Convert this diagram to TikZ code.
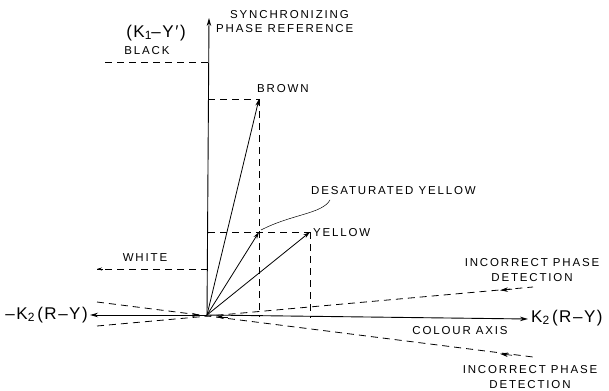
\documentclass[tikz,border=0pt]{standalone}
\usepackage{fontspec}
\setmainfont{Liberation Sans}
\newfontfamily\lblfont[LetterSpace=16]{Liberation Sans}
\newfontfamily\bigfont[LetterSpace=9]{Liberation Sans}
\usetikzlibrary{arrows.meta}
\newcommand{\mysub}[1]{\raisebox{-0.25ex}{\fontsize{12}{12}\selectfont #1}}
\begin{document}
\begin{tikzpicture}[x=1pt,y=-1pt,
  axis/.style={line width=0.9pt},
  vec/.style={line width=0.8pt,-{Stealth[length=7pt,width=4pt]}},
  dsh/.style={line width=0.8pt,dash pattern=on 7pt off 5pt},
  lbl/.style={font=\lblfont\fontsize{11.5}{12}\selectfont,inner sep=0pt},
  big/.style={font=\bigfont\fontsize{17}{18}\selectfont,inner sep=0pt}]
\useasboundingbox (0,0) rectangle (609,390);
% points
\coordinate (O) at (207,315);
\coordinate (Top) at (209,18);
\coordinate (R) at (528,319);
\coordinate (L) at (90,315);
\coordinate (B) at (259,99);
\coordinate (Y) at (310,232);
\coordinate (D) at (259,232);
\coordinate (Bv) at (259,317);
\coordinate (Yv) at (310,318);
\coordinate (Bh) at (208,99);
\coordinate (Yh) at (208,232);
\coordinate (K0) at (105,62);
\coordinate (K1) at (208,62);
\coordinate (W0) at (97,269);
\coordinate (W1) at (208,269);
\coordinate (U0) at (97,326);
\coordinate (U1) at (533,287);
\coordinate (V0) at (97,302);
\coordinate (V1) at (533,357);
% axes
\draw[axis,-{Stealth[length=8pt,width=4.5pt]}] (O) -- (Top);
\draw[axis,-{Stealth[length=8pt,width=4.5pt]}] (O) -- (R);
\draw[axis,-{Stealth[length=8pt,width=4.5pt]}] (O) -- (L);
% arrowheads near origin
\draw[axis,-{Stealth[length=8pt,width=4pt]}] (190,315) -- (200,315);
\draw[axis,-{Stealth[length=8pt,width=4pt]}] (228,317) -- (216,317);
% vectors
\draw[vec] (O) -- (B);
\draw[vec] (O) -- (Y);
\draw[vec] (O) -- (D);
% projections
\draw[dsh] (Bh) -- (B);
\draw[dsh] (B) -- (Bv);
\draw[dsh] (Yh) -- (Y);
\draw[dsh] (Y) -- (Yv);
\draw[dsh] (K0) -- (K1);
\draw[dsh] (W1) -- (W0);
\draw[line width=0.7pt,-{Stealth[length=5pt,width=3pt]}] (103,269) -- (97,269);
% incorrect phase lines
\draw[dsh] (U0) -- (U1);
\draw[dsh] (V0) -- (V1);
\draw[line width=0.7pt,-{Stealth[length=8pt,width=4.5pt]}] (512,289.2) -- (500,290.3);
\draw[line width=0.7pt,-{Stealth[length=8pt,width=4.5pt]}] (512,355.3) -- (500,353.8);
% leader
\draw[line width=0.5pt] (261,230) .. controls (292,214) and (322,214) .. (330,200);
% labels
\node[big] (k1y) at (156,33) {(K\mysub{1}–Y′)};
\node[lbl] (black) at (147,51) {BLACK};
\node[lbl,anchor=west] (sync) at (230,15) {SYNCHRONIZING};
\node[lbl,anchor=west] (phase) at (216,29) {PHASE REFERENCE};
\node[lbl,anchor=west] (brown) at (257,89) {BROWN};
\node[lbl,anchor=west] (desat) at (311,191) {DESATURATED YELLOW};
\node[lbl,anchor=west] (yellow) at (313,233) {YELLOW};
\node[lbl] (white) at (145,258) {WHITE};
\node[big,anchor=east] (negk) at (88,315) {–K\mysub{2}\,(R–Y)};
\node[big,anchor=west] (posk) at (531,318) {K\mysub{2}\,(R–Y)};
\node[lbl] (colour) at (460,331) {COLOUR AXIS};
\node[lbl,align=center] (ipd1) at (532,270) {INCORRECT PHASE\\[3.5pt]DETECTION};
\node[lbl,align=center] (ipd2) at (530,377) {INCORRECT PHASE\\[3.5pt]DETECTION};
\end{tikzpicture}
\end{document}
